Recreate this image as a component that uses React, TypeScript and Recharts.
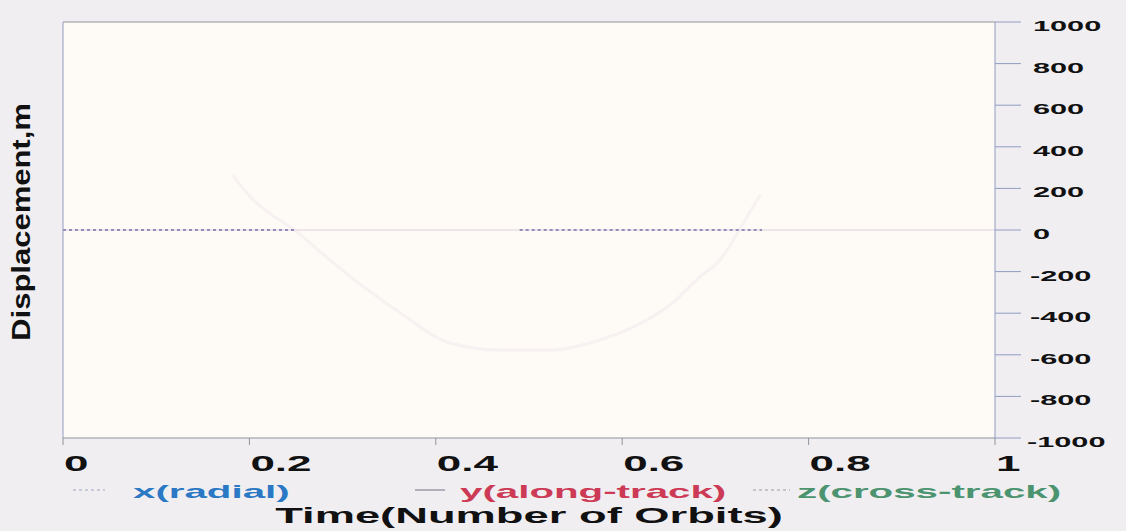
import { LineChart, Line, XAxis, YAxis, ReferenceArea } from 'recharts'

// time axis ticks (orbits) and displacement ticks (m)
const timeTicks = [0, 0.2, 0.4, 0.6, 0.8, 1]
const dispTicks = [1000, 800, 600, 400, 200, 0, -200, -400, -600, -800, -1000]

// x(radial): dotted trace hugging zero, with a gap in the middle
const radialTime = [0, 0.1, 0.25, 0.37, 0.49, 0.6, 0.75]
const radialValues = [0, 0, 0, null, 0, 0, 0]

// y(along-track): faint flat trace along zero
const alongTime = [0, 0.25, 0.5, 0.75, 1]
const alongValues = [0, 0, 0, 0, 0]

// z(cross-track): very faint arc
const crossTime = [0.182, 0.201, 0.254, 0.286, 0.362, 0.415, 0.469, 0.523, 0.576, 0.612, 0.654, 0.683, 0.705, 0.732, 0.748]
const crossValues = [264, 159, -20, -144, -399, -543, -577, -577, -529, -466, -351, -226, -144, 48, 168]

const series = [
  { name: 'x(radial)', color: '#2b78c4', sample: '#b9bfd2', dash: '3 3' },
  { name: 'y(along-track)', color: '#cc3a55', sample: '#9c9aa8', dash: undefined },
  { name: 'z(cross-track)', color: '#4c9470', sample: '#b4bab2', dash: '3 3' },
]

const radialData = radialTime.map((t, i) => ({ t, v: radialValues[i] }))
const alongData = alongTime.map((t, i) => ({ t, v: alongValues[i] }))
const crossData = crossTime.map((t, i) => ({ t, v: crossValues[i] }))

const FONT = 'Liberation Sans, Arial, sans-serif'

function TimeTick({ x, y, payload }: any) {
  return (
    <g transform={`translate(${x + 1},${y})`}>
      <text x={0} y={0} dy={24} fontSize={22} fontWeight="bold" fontFamily={FONT} fill="#111" textAnchor="start" transform="scale(2.0,1)">
        {String(payload.value)}
      </text>
    </g>
  )
}

function DispTick({ x, y, payload }: any) {
  const v = payload.value
  const shift = v < -900 ? -4 : v < 0 ? -1 : 2
  return (
    <g transform={`translate(${x + shift},${y})`}>
      <text x={0} y={0} dy={9} fontSize={15.5} fontWeight="bold" fontFamily={FONT} fill="#111" textAnchor="start" transform="scale(1.98,1)">
        {String(v)}
      </text>
    </g>
  )
}

function TimeTitle({ viewBox }: any) {
  const cx = viewBox.x + viewBox.width / 2
  return (
    <text transform={`translate(${cx},${viewBox.y + 85}) scale(2.06,1)`} textAnchor="middle" fontSize={22} fontWeight="bold" fontFamily={FONT} fill="#111">
      Time(Number of Orbits)
    </text>
  )
}

function DispTitle({ viewBox }: any) {
  const cy = viewBox.y + viewBox.height / 2 - 8
  return (
    <text transform={`translate(${viewBox.x - 18},${cy}) rotate(-90) scale(1.24,1)`} textAnchor="middle" fontSize={25} fontWeight="bold" fontFamily={FONT} fill="#111">
      Displacement,m
    </text>
  )
}

const legendPos = [
  { line: [73, 105], text: 133 },
  { line: [415, 445], text: 460 },
  { line: [753, 790], text: 797 },
]

export default function App() {
  return (
    <div style={{ position: 'absolute', left: 0, top: 0, width: 1126, height: 531, background: '#f0eef1' }}>
      <LineChart width={1126} height={531} margin={{ top: 12, right: 31, bottom: 53, left: 48 }}>
        <ReferenceArea xAxisId="b" yAxisId="r" x1={0} x2={1} y1={-1000} y2={1000} fill="#fefaf6" fillOpacity={1} stroke="none" />
        <XAxis
          xAxisId="b"
          type="number"
          dataKey="t"
          domain={[0, 1]}
          ticks={timeTicks}
          height={40}
          stroke="#8e949c"
          tickSize={7}
          tickMargin={2}
          tick={<TimeTick />}
          label={{ content: <TimeTitle /> }}
        />
        <XAxis
          xAxisId="t"
          orientation="top"
          type="number"
          dataKey="t"
          domain={[0, 1]}
          ticks={timeTicks}
          height={10}
          stroke="#8e949c"
          tickSize={9}
          tick={false}
        />
        <YAxis
          yAxisId="r"
          orientation="right"
          type="number"
          domain={[-1000, 1000]}
          ticks={dispTicks}
          width={100}
          stroke="#909cc2"
          tickSize={26}
          tickMargin={10}
          tick={<DispTick />}
        />
        <YAxis
          yAxisId="l"
          orientation="left"
          type="number"
          domain={[-1000, 1000]}
          ticks={dispTicks}
          width={15}
          stroke="#909cc2"
          tickSize={15}
          tick={false}
          label={{ content: <DispTitle /> }}
        />
        <Line xAxisId="b" yAxisId="r" data={crossData} dataKey="v" name="z(cross-track)" type="monotone" stroke="#f7f1f1" strokeWidth={3} dot={false} isAnimationActive={false} />
        <Line xAxisId="b" yAxisId="r" data={alongData} dataKey="v" name="y(along-track)" type="linear" stroke="#e8deea" strokeWidth={1.5} dot={false} isAnimationActive={false} />
        <Line xAxisId="b" yAxisId="r" data={radialData} dataKey="v" name="x(radial)" type="linear" stroke="#7a70ac" strokeWidth={1.5} strokeDasharray="3 3" dot={false} isAnimationActive={false} />
      </LineChart>
      <svg width={1126} height={531} style={{ position: 'absolute', left: 0, top: 0, pointerEvents: 'none' }}>
        {series.map((s, i) => (
          <g key={s.name}>
            <line x1={legendPos[i].line[0]} x2={legendPos[i].line[1]} y1={490} y2={490} stroke={s.sample} strokeWidth={1.5} strokeDasharray={s.dash} />
            <text transform={`translate(${legendPos[i].text},498) scale(2.12,1)`} fontSize={19} fontWeight="bold" fontFamily={FONT} fill={s.color}>
              {s.name}
            </text>
          </g>
        ))}
      </svg>
    </div>
  )
}
